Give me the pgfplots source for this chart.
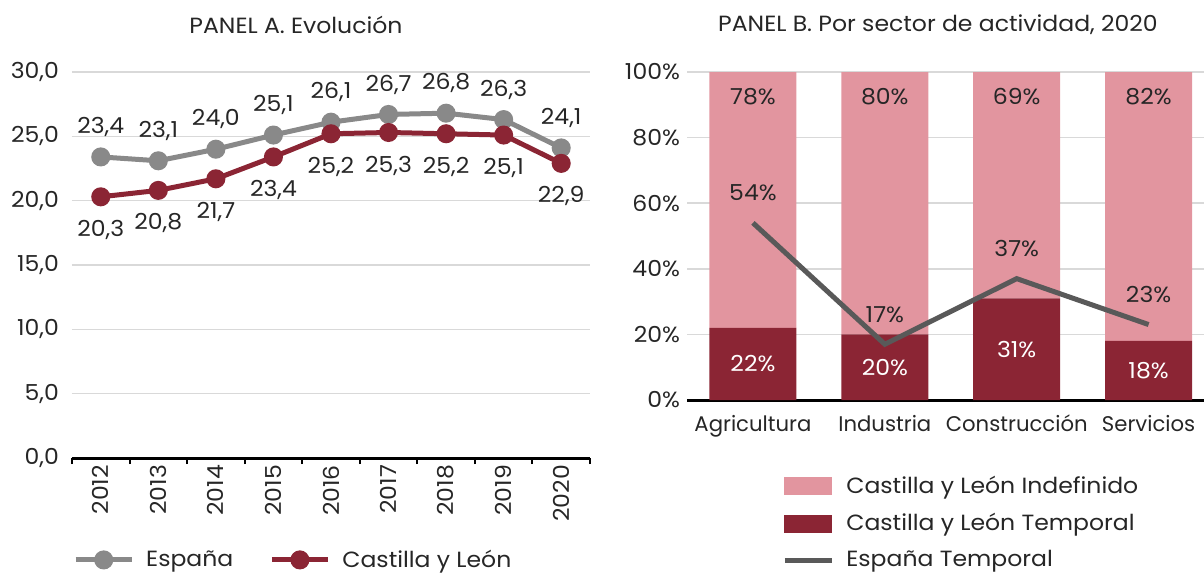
\documentclass[border=0pt]{standalone}
\usepackage{fontspec}
\setmainfont{Poppins}[FakeStretch=1.07]
\newfontfamily\estrecha{Poppins}
\usepackage{pgfplots}
\pgfplotsset{compat=1.18}

\definecolor{gris}{RGB}{137,137,137}
\definecolor{granate}{RGB}{139,37,52}
\definecolor{rosa}{RGB}{226,149,159}
\definecolor{grisosc}{RGB}{89,89,89}
\definecolor{rejilla}{RGB}{217,217,217}
\definecolor{texto}{RGB}{38,38,38}

\newcommand{\fuente}{\fontsize{11}{13}\selectfont}

\pgfplotsset{
  every axis/.append style={
    font=\fuente,
    /pgf/number format/assume math mode=true,
    tick label style={text=texto},
  },
}

\begin{document}
\begin{tikzpicture}
\useasboundingbox (0,0) rectangle (602pt,-286.5pt);

% Títulos
\node[text=texto, font=\fuente] at (148pt,-12.5pt) {PANEL A. Evolución};
\node[text=texto, font=\fuente] at (469pt,-12.5pt) {PANEL B. Por sector de actividad, 2020};

% Panel A
\begin{axis}[
  at={(36pt,-229pt)}, anchor=south west,
  scale only axis, width=259pt, height=193pt,
  xmin=2011.5, xmax=2020.5, ymin=0, ymax=30,
  xtick={2012,...,2020},
  xticklabels={2012,2013,2014,2015,2016,2017,2018,2019,2020},
  minor xtick={2011.5,2012.5,...,2020.5},
  ytick={0,5,...,30},
  /pgf/number format/fixed, /pgf/number format/fixed zerofill,
  /pgf/number format/precision=1, /pgf/number format/use comma,
  axis x line*=bottom, axis y line*=left,
  y axis line style={draw=none},
  x axis line style={black, line width=1.5pt},
  tick align=outside, major tick length=0pt, minor tick length=3pt,
  minor tick style={black, line width=1pt},
  x tick label style={rotate=90, anchor=east},
  y tick label style={xshift=-3pt},
  ymajorgrids, grid style={rejilla, line width=0.8pt},
  clip=false,
  legend style={draw=none, fill=none, at={(axis description cs:-0.01,-0.264)}, anchor=west,
    font=\fuente, text=texto,
    /tikz/every odd column/.append style={column sep=4pt},
    /tikz/every even column/.append style={column sep=16pt}},
  legend columns=2,
  legend image code/.code={\draw[mark repeat=2, mark phase=2, #1] plot coordinates {(0pt,0pt) (14pt,0pt) (28pt,0pt)};},
]
\addplot[gris, line width=2.5pt, mark=*, mark size=3.5pt,
  nodes near coords, every node near coord/.style={anchor=center, yshift=15pt, text=texto}]
  coordinates {(2012,23.4) (2013,23.1) (2014,24.0) (2015,25.1) (2016,26.1) (2017,26.7) (2018,26.8) (2019,26.3) (2020,24.1)};
\addlegendentry{España}
\addplot[granate, line width=2.5pt, mark=*, mark size=3.5pt,
  nodes near coords, every node near coord/.style={anchor=center, yshift=-16.5pt, text=texto}]
  coordinates {(2012,20.3) (2013,20.8) (2014,21.7) (2015,23.4) (2016,25.2) (2017,25.3) (2018,25.2) (2019,25.1) (2020,22.9)};
\addlegendentry{Castilla y León}
\end{axis}

% Panel B: barras apiladas (etiquetas centradas en cada tramo)
\begin{axis}[
  at={(343.5pt,-200pt)}, anchor=south west,
  scale only axis, width=258.5pt, height=164pt,
  ybar stacked, bar width=43.5pt,
  xmin=-0.5, xmax=3.42, ymin=0, ymax=100,
  xtick={0,1,2,3},
  xticklabels={Agricultura,Industria,Construcción,Servicios},
  x tick label style={yshift=-4pt, font=\estrecha\fontsize{10.6}{13}\selectfont},
  ytick={0,20,...,100},
  yticklabel={\pgfmathprintnumber{\tick}\%},
  axis x line*=bottom, axis y line*=left,
  y axis line style={draw=none},
  x axis line style={black, line width=1.5pt},
  major tick length=0pt,
  ymajorgrids, grid style={rejilla, line width=0.8pt},
  clip=false,
]
\addplot[fill=granate, draw=none,
  nodes near coords={\pgfmathprintnumber{\pgfplotspointmeta}\%},
  every node near coord/.style={anchor=center, text=white}]
  coordinates {(0,22) (1,20) (2,31) (3,18)};
% Indefinido: etiqueta cerca del borde superior
\addplot[fill=rosa, draw=none,
  visualization depends on=rawy \as \rawy,
  nodes near coords={\pgfmathprintnumber{\pgfplotspointmeta}\%},
  every node near coord/.style={anchor=center, text=texto, yshift={0.82pt*\rawy-12.5pt}}]
  coordinates {(0,78) (1,80) (2,69) (3,82)};
\end{axis}

% Panel B: línea España
\begin{axis}[
  at={(343.5pt,-200pt)}, anchor=south west,
  scale only axis, width=258.5pt, height=164pt,
  xmin=-0.5, xmax=3.42, ymin=0, ymax=100,
  hide axis, clip=false,
  legend style={draw=none, fill=none, at={(axis description cs:0.172,-0.206)}, anchor=north west,
    font=\fuente, text=texto, row sep=4.5pt,
    /tikz/every odd column/.append style={column sep=4pt}},
  legend cell align=left,
]
\addlegendimage{legend image code/.code={\fill[rosa] (0pt,-4.25pt) rectangle (23.5pt,4.25pt);}}
\addlegendentry{Castilla y León Indefinido}
\addlegendimage{legend image code/.code={\fill[granate] (0pt,-4.25pt) rectangle (23.5pt,4.25pt);}}
\addlegendentry{Castilla y León Temporal}
\addplot[grisosc, line width=2.5pt, mark=none,
  legend image code/.code={\draw[grisosc, line width=2.5pt] (0pt,0pt) -- (23.5pt,0pt);},
  nodes near coords={\pgfmathprintnumber{\pgfplotspointmeta}\%},
  every node near coord/.style={anchor=center, text=texto, yshift=15pt}]
  coordinates {(0,54) (1,17) (2,37) (3,23)};
\addlegendentry{España Temporal}
\end{axis}
\end{tikzpicture}
\end{document}
